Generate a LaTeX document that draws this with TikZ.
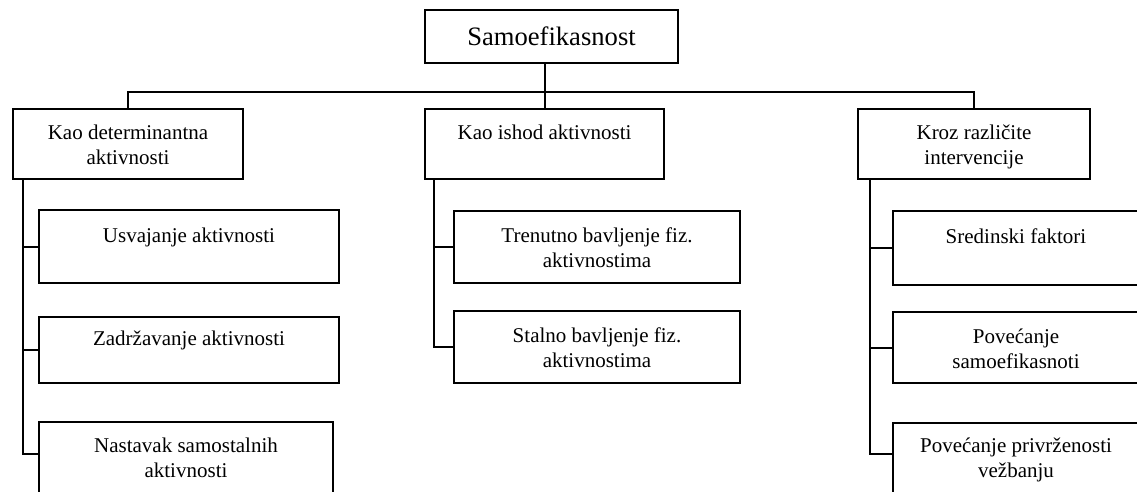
\documentclass[tikz,border=0pt]{standalone}
\usepackage{fontspec}
\setmainfont{Liberation Serif}
\newcommand\linestrut{\rule[-4.5pt]{0pt}{25pt}}
\begin{document}
\begin{tikzpicture}[x=1pt,y=-1pt,
  box/.style={draw,line width=2.2pt,rectangle,inner sep=0pt,align=center,
    font=\fontsize{21}{25}\selectfont},
  link/.style={line width=2pt}]
\useasboundingbox (0,0) rectangle (1137,491);
\clip (0,0) rectangle (1137,491);

% root
\node[box,minimum width=253pt,minimum height=53pt,font=\fontsize{26.6}{30}\selectfont]
  (top) at (551.5,36.5) {Samoefikasnost};

% first level
\node[box,minimum width=230pt,minimum height=70pt] (L1) at (128,144)
  {\linestrut Kao determinantna\\\linestrut aktivnosti};
\node[box,minimum width=239pt,minimum height=70pt] (M1) at (544.5,144)
  {\linestrut Kao ishod aktivnosti\\\linestrut};
\node[box,minimum width=232pt,minimum height=70pt] (R1) at (974,144)
  {\linestrut Kroz različite\\\linestrut intervencije};

% left branch
\node[box,minimum width=300pt,minimum height=73pt] (Lc1) at (189,246.5)
  {\linestrut Usvajanje aktivnosti\\\linestrut};
\node[box,minimum width=300pt,minimum height=66pt] (Lc2) at (189,350)
  {\linestrut Zadržavanje aktivnosti\\\linestrut};
\node[box,minimum width=294pt,minimum height=94pt] (Lc3) at (186,469)
  {\linestrut Nastavak samostalnih\\\linestrut aktivnosti\\\linestrut};

% middle branch
\node[box,minimum width=286pt,minimum height=72pt] (Mc1) at (597,247)
  {\linestrut Trenutno bavljenje fiz.\\\linestrut aktivnostima};
\node[box,minimum width=286pt,minimum height=72pt] (Mc2) at (597,347)
  {\linestrut Stalno bavljenje fiz.\\\linestrut aktivnostima};

% right branch
\node[box,minimum width=246pt,minimum height=74pt] (Rc1) at (1016,248)
  {\linestrut Sredinski faktori\\\linestrut};
\node[box,minimum width=246pt,minimum height=71pt] (Rc2) at (1016,347.5)
  {\linestrut Povećanje\\\linestrut samoefikasnoti};
\node[box,minimum width=246pt,minimum height=93pt] (Rc3) at (1016,469.5)
  {\linestrut Povećanje privrženosti\\\linestrut vežbanju\\\linestrut};

% connectors
\coordinate (bar) at (0,92);
\draw[link] (M1.north) -- (M1.north |- top.south);
\draw[link] (L1.north) -- (L1.north |- bar) -- (R1.north |- bar) -- (R1.north);

\coordinate (Lt) at ([xshift=11pt]L1.south west);
\coordinate (Mt) at ([xshift=10pt]M1.south west);
\coordinate (Rt) at ([xshift=13pt]R1.south west);
\coordinate (Lend) at ([yshift=-33pt]Lc3.north west);
\coordinate (Rend) at ([yshift=-32pt]Rc3.north west);

\draw[link] (Lt) |- (Lend);
\draw[link] (Lt |- Lc1.west) -- (Lc1.west);
\draw[link] (Lt |- Lc2.west) -- (Lc2.west);

\draw[link] (Mt) |- (Mc2.west);
\draw[link] (Mt |- Mc1.west) -- (Mc1.west);

\draw[link] (Rt) |- (Rend);
\draw[link] (Rt |- Rc1.west) -- (Rc1.west);
\draw[link] (Rt |- Rc2.west) -- (Rc2.west);
\end{tikzpicture}
\end{document}
